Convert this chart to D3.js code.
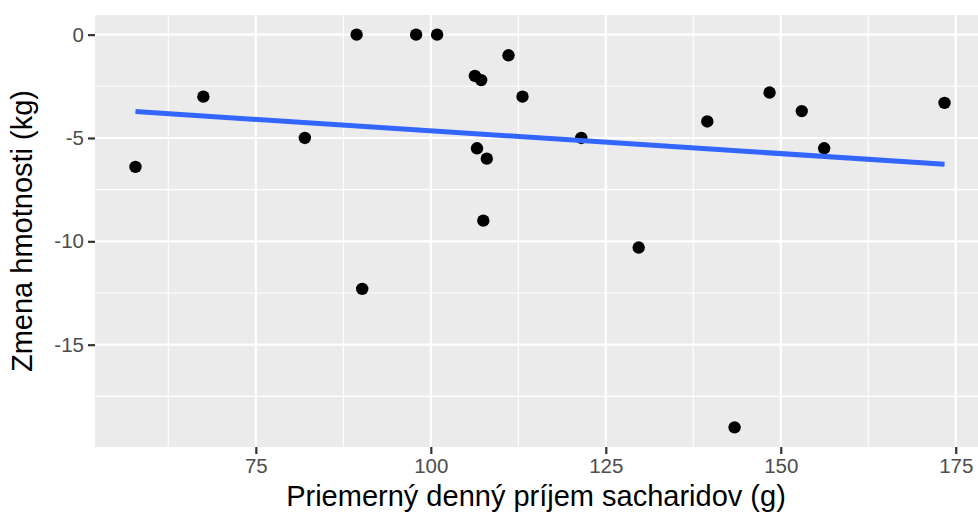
<!DOCTYPE html>
<html>
<head>
<meta charset="utf-8">
<script src="https://cdn.jsdelivr.net/npm/d3@7"></script>
<style>
  html, body { margin: 0; padding: 0; background: #ffffff; }
  svg { display: block; font-family: "Liberation Sans", Arial, sans-serif; }
</style>
</head>
<body>
<svg id="chart" width="978" height="518"></svg>
<script>
// Average daily carbohydrate intake (g) and weight change (kg) per participant
const intake = [57.8, 67.5, 82.0, 89.4, 97.9, 100.9, 111.1, 106.3, 107.2, 113.1, 106.6,
                108.0, 107.5, 121.5, 129.7, 90.2, 139.5, 148.4, 153.0, 156.2, 173.4, 143.4];
const weightChange = [-6.4, -3.0, -5.0, 0, 0, 0, -1.0, -2.0, -2.2, -3.0, -5.5,
                      -6.0, -9.0, -5.0, -10.3, -12.3, -4.2, -2.8, -3.7, -5.5, -3.3, -19.0];
const xTicks = [75, 100, 125, 150, 175];
const yTicks = [0, -5, -10, -15];
const xMinor = [62.5, 87.5, 112.5, 137.5, 162.5];
const yMinor = [-2.5, -7.5, -12.5, -17.5];
const xTitle = "Priemerný denný príjem sacharidov (g)";
const yTitle = "Zmena hmotnosti (kg)";

const points = intake.map((x, i) => ({ x, y: weightChange[i] }));

const panel = { left: 95, top: 15, right: 985, bottom: 447 };

// ggplot-style 5% expansion of the data range
function expand([a, b]) { const d = (b - a) * 0.05; return [a - d, b + d]; }

const x = d3.scaleLinear().domain(expand(d3.extent(intake))).range([panel.left, panel.right]);
const y = d3.scaleLinear().domain(expand(d3.extent(weightChange))).range([panel.bottom, panel.top]);

const svg = d3.select("#chart");

// panel background
svg.append("rect")
  .attr("x", panel.left).attr("y", panel.top)
  .attr("width", panel.right - panel.left).attr("height", panel.bottom - panel.top)
  .attr("fill", "#EBEBEB");

const grid = svg.append("g");
// minor grid
grid.selectAll(".vminor").data(xMinor).join("line")
  .attr("x1", d => x(d)).attr("x2", d => x(d))
  .attr("y1", panel.top).attr("y2", panel.bottom)
  .attr("stroke", "#ffffff").attr("stroke-width", 1.1);
grid.selectAll(".hminor").data(yMinor).join("line")
  .attr("y1", d => y(d)).attr("y2", d => y(d))
  .attr("x1", panel.left).attr("x2", panel.right)
  .attr("stroke", "#ffffff").attr("stroke-width", 1.1);
// major grid
grid.selectAll(".vmajor").data(xTicks).join("line")
  .attr("x1", d => x(d)).attr("x2", d => x(d))
  .attr("y1", panel.top).attr("y2", panel.bottom)
  .attr("stroke", "#ffffff").attr("stroke-width", 2.2);
grid.selectAll(".hmajor").data(yTicks).join("line")
  .attr("y1", d => y(d)).attr("y2", d => y(d))
  .attr("x1", panel.left).attr("x2", panel.right)
  .attr("stroke", "#ffffff").attr("stroke-width", 2.2);

// points
svg.append("g").selectAll("circle").data(points).join("circle")
  .attr("cx", d => x(d.x)).attr("cy", d => y(d.y))
  .attr("r", 6.2).attr("fill", "#000000");

// least-squares fit line
const mx = d3.mean(intake), my = d3.mean(weightChange);
const sxy = d3.sum(points, d => (d.x - mx) * (d.y - my));
const sxx = d3.sum(points, d => (d.x - mx) ** 2);
const slope = sxy / sxx, intercept = my - slope * mx;
const [x0, x1] = d3.extent(intake);
svg.append("line")
  .attr("x1", x(x0)).attr("y1", y(intercept + slope * x0))
  .attr("x2", x(x1)).attr("y2", y(intercept + slope * x1))
  .attr("stroke", "#3366FF").attr("stroke-width", 5);

// axes
const xAxis = d3.axisBottom(x).tickValues(xTicks).tickSize(7).tickPadding(4).tickFormat(d3.format("d"));
const yAxis = d3.axisLeft(y).tickValues(yTicks).tickSize(7).tickPadding(4).tickFormat(d => d3.format("d")(d).replace("−", "-"));

const gx = svg.append("g").attr("transform", `translate(0,${panel.bottom})`).call(xAxis);
const gy = svg.append("g").attr("transform", `translate(${panel.left},0)`).call(yAxis);
[gx, gy].forEach(g => {
  g.select(".domain").remove();
  g.selectAll(".tick line").attr("stroke", "#333333").attr("stroke-width", 2.2);
  g.selectAll(".tick text").attr("fill", "#4D4D4D")
    .style("font-size", "20.5px").style("font-family", "'Liberation Sans', Arial, sans-serif");
});

// axis titles
svg.append("text")
  .attr("x", (95 + 977) / 2).attr("y", 506)
  .attr("text-anchor", "middle")
  .attr("fill", "#000000")
  .style("font-size", "29px")
  .text(xTitle);

svg.append("text")
  .attr("transform", `translate(32,${(panel.top + panel.bottom) / 2}) rotate(-90)`)
  .attr("text-anchor", "middle")
  .attr("fill", "#000000")
  .style("font-size", "29px")
  .text(yTitle);
</script>
</body>
</html>
